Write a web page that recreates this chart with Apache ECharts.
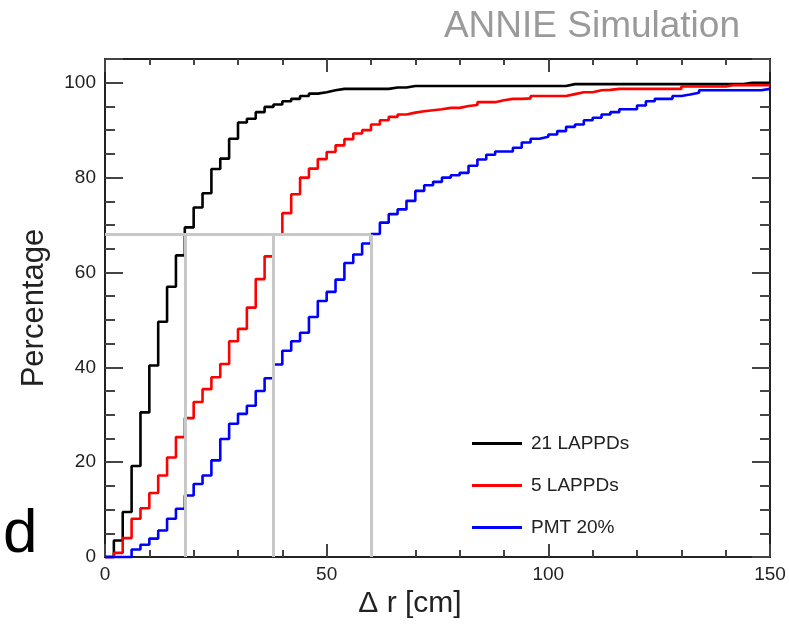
<!DOCTYPE html>
<html><head><meta charset="utf-8">
<script src="https://cdn.jsdelivr.net/npm/echarts@6/dist/echarts.min.js"></script>
<style>html,body{margin:0;padding:0;background:#fff}#c{width:789px;height:624px}</style>
</head><body><div id="c"></div><script>
// ---- data (cumulative percentage per 2 cm bin, 0..150 cm) ----
const binWidth = 2;
const seriesNames = ['21 LAPPDs', '5 LAPPDs', 'PMT 20%'];
const seriesColors = ['#000000', '#ff0000', '#0000ff'];
const lappd21 = [0,3.5,9.5,19.2,30.5,40.4,49.6,57.0,63.6,69.5,73.7,76.7,81.8,84.0,88.2,91.6,92.4,93.8,94.9,95.4,96.1,96.6,97.2,97.7,98.0,98.4,
  98.7,98.7,98.7,98.7,98.7,98.7,99.0,99.0,
  99.3,99.3,99.3,99.3,99.3,99.3,99.3,99.3,99.3,99.3,99.3,99.3,99.3,99.3,99.3,99.3,99.3,99.3,
  99.7,99.7,99.7,99.7,99.7,99.7,99.7,99.7,99.7,99.7,99.7,99.7,99.7,99.7,99.7,99.7,99.7,99.7,99.7,99.7,
  100,100,100];
const lappd5 = [0,0.9,4.0,8.1,10.3,13.5,17.2,21.0,25.3,29.3,32.7,35.4,37.9,40.7,45.5,48.1,52.6,58.6,63.4,68.0,72.5,76.5,80.0,81.9,83.9,85.4,86.8,88.1,89.3,90.0,
  91.2,92.1,92.8,93.3,93.7,94.0,94.2,94.4,94.7,94.7,95.1,95.3,95.9,95.9,96.3,96.6,96.6,96.7,97.2,97.2,97.2,97.2,97.6,98.0,98.0,98.4,98.5,
  98.7,98.7,98.7,98.7,98.7,98.7,98.7,98.7,
  99.2,99.2,99.2,99.2,99.2,
  99.5,99.5,99.5,99.5,99.5];
const pmt20 = [0,0,0,1.6,2.6,3.9,5.6,8.1,10.2,13.0,15.4,17.2,20.4,24.9,28.1,30.2,31.9,35.0,37.7,40.6,43.5,45.5,47.3,50.6,54.0,55.9,58.5,62.0,63.8,66.1,
  68.1,70.5,72.3,73.3,75.1,77.2,78.4,79.1,80.0,80.5,81.0,82.5,83.8,84.8,85.5,85.5,86.3,87.4,88.2,88.6,89.1,89.8,90.7,91.2,92.1,92.6,93.3,93.8,94.4,94.4,
  95.2,96.1,96.6,96.6,97.2,97.5,97.9,
  98.4,98.4,98.4,98.4,98.4,98.4,98.4,
  98.7];
const cutRadii = [18, 38, 60];
const cutLevel = 68;
const xTickLabels = [0, 50, 100, 150];
const yTickLabels = [0, 20, 40, 60, 80, 100];
const titleText = 'ANNIE Simulation';
const xName = 'Δ r [cm]';
const yName = 'Percentage';

// ---- build ----
function steps(vals) {
  const pts = vals.map((v, i) => [i * binWidth, v]);
  pts.push([vals.length * binWidth, vals[vals.length - 1]]);
  return pts;
}
const FONT = '"Liberation Sans", Arial, Helvetica, sans-serif';
const axisCol = '#222';
const tickCol = '#444';
function xAx(pos, interval, len, labels) {
  return {
    type: 'value', position: pos, min: 0, max: 150, interval: interval,
    axisLine: { show: true, onZero: false, lineStyle: { color: axisCol, width: 2 } },
    axisTick: { show: true, inside: true, length: len, lineStyle: { color: tickCol, width: 2 } },
    axisLabel: labels ? { show: true, fontSize: 19, color: axisCol, fontFamily: FONT, margin: 8,
      formatter: v => xTickLabels.includes(v) ? String(v) : '' } : { show: false },
    splitLine: { show: false }
  };
}
function yAx(pos, interval, len, labels) {
  return {
    type: 'value', position: pos, min: 0, max: 105, interval: interval,
    axisLine: { show: true, onZero: false, lineStyle: { color: axisCol, width: 2 } },
    axisTick: { show: true, inside: true, length: len, lineStyle: { color: tickCol, width: 2 } },
    axisLabel: labels ? { show: true, fontSize: 19, color: axisCol, fontFamily: FONT, margin: 9,
      formatter: v => yTickLabels.includes(v) ? String(v) : '' } : { show: false },
    splitLine: { show: false }
  };
}
const xAxes = [xAx('bottom', 10, 7, true), xAx('bottom', 50, 13, false), xAx('top', 10, 6, false), xAx('top', 50, 13, false)];
xAxes[0].name = xName;
xAxes[0].nameLocation = 'middle';
xAxes[0].nameGap = 30;
xAxes[0].nameTextStyle = { fontSize: 30, color: axisCol, fontFamily: FONT, padding: [0, 55, 0, 0] };
const yAxes = [yAx('left', 5, 10, true), yAx('left', 20, 18, false), yAx('right', 5, 10, false), yAx('right', 20, 18, false)];
yAxes[0].name = yName;
yAxes[0].nameLocation = 'middle';
yAxes[0].nameGap = 55;
yAxes[0].nameTextStyle = { fontSize: 31, color: axisCol, fontFamily: FONT };

const dataSets = [lappd21, lappd5, pmt20];
const series = dataSets.map((d, k) => ({
  name: seriesNames[k], type: 'line', step: 'end', data: steps(d),
  xAxisIndex: 0, yAxisIndex: 0, showSymbol: false, symbol: 'none',
  lineStyle: { color: seriesColors[k], width: 2.6 }, itemStyle: { color: seriesColors[k] },
  z: 3
}));
const maxCut = Math.max(...cutRadii);
const cutLines = [[{ coord: [0, cutLevel] }, { coord: [maxCut, cutLevel] }]]
  .concat(cutRadii.map(r => [{ coord: [r, 0] }, { coord: [r, cutLevel] }]));
series.push({
  name: 'cuts', type: 'line', data: [], xAxisIndex: 0, yAxisIndex: 0, z: 5,
  markLine: { silent: true, symbol: ['none', 'none'], label: { show: false }, animation: false,
    lineStyle: { color: '#c8c8c8', width: 3, type: 'solid' }, emphasis: { disabled: true }, data: cutLines }
});

const chart = echarts.init(document.getElementById('c'), null, { renderer: 'canvas' });
chart.setOption({
  animation: false,
  backgroundColor: '#fff',
  title: { text: titleText, right: 44, top: 3, textStyle: { fontSize: 37, color: '#9a9a9a', fontWeight: 'normal', fontFamily: FONT } },
  grid: { left: 105, right: 19, top: 59, bottom: 66, containLabel: false },
  legend: {
    data: seriesNames, orient: 'vertical', left: 472, top: 434, itemWidth: 50, itemHeight: 3, icon: 'rect',
    itemGap: 23, padding: 0, textStyle: { fontSize: 19, color: axisCol, fontFamily: FONT, padding: [0, 0, 0, 4] }
  },
  xAxis: xAxes,
  yAxis: yAxes,
  series: series,
  graphic: [{ type: 'text', left: 3, top: 504, style: { text: 'd', fontSize: 62, fill: '#000', fontFamily: FONT } }]
});
</script></body></html>
